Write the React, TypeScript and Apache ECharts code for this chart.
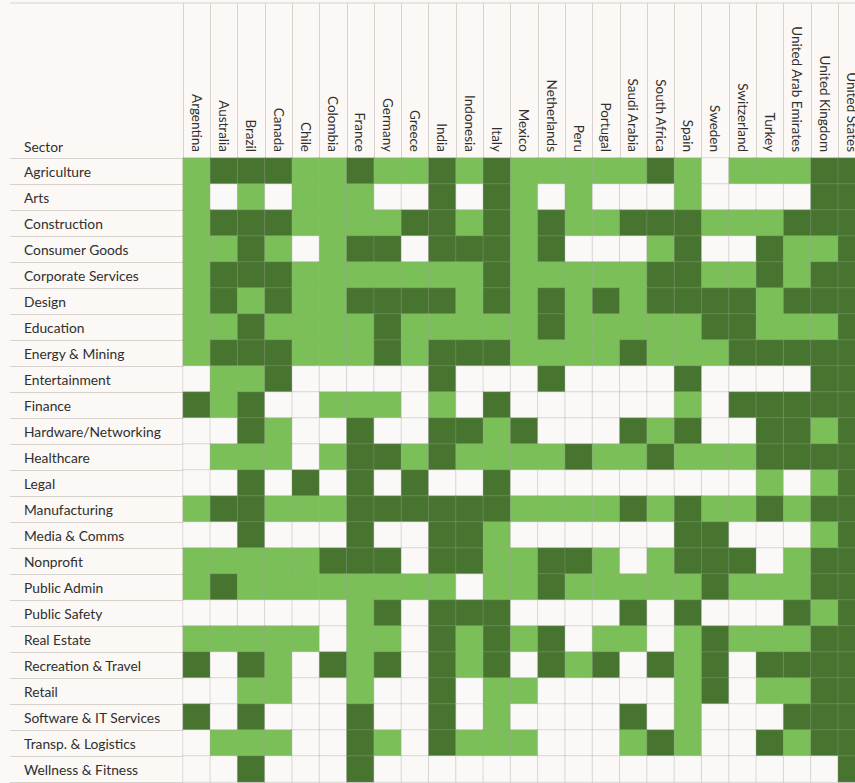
import React, { useEffect, useRef } from "react";
import * as echarts from "echarts";

const countries = [
  "Argentina", "Australia", "Brazil", "Canada", "Chile", "Colombia", "France", "Germany", "Greece",
  "India", "Indonesia", "Italy", "Mexico", "Netherlands", "Peru", "Portugal", "Saudi Arabia",
  "South Africa", "Spain", "Sweden", "Switzerland", "Turkey", "United Arab Emirates",
  "United Kingdom", "United States",
];

const sectors = [
  "Agriculture", "Arts", "Construction", "Consumer Goods", "Corporate Services", "Design",
  "Education", "Energy & Mining", "Entertainment", "Finance", "Hardware/Networking", "Healthcare",
  "Legal", "Manufacturing", "Media & Comms", "Nonprofit", "Public Admin", "Public Safety",
  "Real Estate", "Recreation & Travel", "Retail", "Software & IT Services", "Transp. & Logistics",
  "Wellness & Fitness",
];

// 0 = none, 1 = light, 2 = dark
const agriculture = [1,2,2,2,1,1,2,1,1,2,1,2,1,1,1,1,1,2,1,0,1,1,1,2,2];
const arts = [1,0,1,0,1,1,1,0,0,2,0,2,1,0,1,0,0,0,1,0,0,0,0,2,2];
const construction = [1,2,2,2,1,1,1,1,2,2,1,2,1,2,1,1,2,2,2,1,1,1,2,2,2];
const consumerGoods = [1,1,2,1,0,1,2,2,0,2,2,2,1,2,0,0,0,1,2,0,0,2,1,1,2];
const corporateServices = [1,2,2,2,1,1,1,1,1,1,1,2,1,1,1,1,1,2,2,1,1,2,1,2,2];
const design = [1,2,1,2,1,1,2,2,2,2,1,2,1,2,1,2,1,2,2,2,2,1,2,2,2];
const education = [1,1,2,1,1,1,1,2,1,1,1,1,1,2,1,1,1,1,1,2,2,1,1,1,2];
const energyMining = [1,2,2,2,1,1,1,2,1,2,2,2,1,1,1,1,2,1,1,1,2,2,2,2,2];
const entertainment = [0,1,1,2,0,0,0,0,0,2,0,0,0,2,0,0,0,0,2,0,0,0,0,2,2];
const finance = [2,1,2,0,0,1,1,1,0,1,0,2,0,0,0,0,0,0,1,0,2,2,2,2,2];
const hardware = [0,0,2,1,0,0,2,0,0,2,2,1,2,0,0,0,2,1,2,0,0,2,2,1,2];
const healthcare = [0,1,1,1,0,1,2,2,1,2,1,1,1,1,2,1,1,2,1,1,1,2,2,2,2];
const legal = [0,0,2,0,2,0,2,0,2,0,0,2,0,0,0,0,0,0,0,0,0,1,0,1,2];
const manufacturing = [1,2,2,1,1,1,2,2,2,2,2,2,1,1,1,1,2,1,2,1,1,2,1,2,2];
const mediaComms = [0,0,2,0,0,0,2,0,0,2,2,1,0,0,0,0,0,0,2,2,0,0,0,1,2];
const nonprofit = [1,1,1,1,1,2,2,2,0,2,2,1,1,2,2,1,0,1,2,2,2,0,1,2,2];
const publicAdmin = [1,2,1,1,1,1,1,1,1,1,0,1,1,2,1,1,1,1,1,2,1,1,1,2,2];
const publicSafety = [0,0,0,0,0,0,1,2,0,2,2,2,0,0,0,0,2,0,2,0,0,0,2,1,2];
const realEstate = [1,1,1,1,1,0,1,1,0,2,1,2,1,2,0,1,1,0,1,2,1,1,1,2,2];
const recreation = [2,0,2,1,0,2,1,2,0,2,1,2,0,2,1,2,0,2,1,2,0,2,2,2,2];
const retail = [0,0,1,1,0,0,1,0,0,2,0,1,1,0,0,0,0,0,1,2,0,1,1,2,2];
const software = [2,0,2,0,0,0,2,0,0,2,0,1,0,0,0,0,2,0,1,0,0,0,2,2,2];
const transport = [0,1,1,1,0,0,2,1,0,2,1,1,1,0,0,0,1,2,1,0,0,2,1,2,2];
const wellness = [0,0,2,0,0,0,2,0,0,0,0,0,0,0,0,0,0,0,0,0,0,0,0,0,2];

const rows = [
  agriculture, arts, construction, consumerGoods, corporateServices, design, education,
  energyMining, entertainment, finance, hardware, healthcare, legal, manufacturing, mediaComms,
  nonprofit, publicAdmin, publicSafety, realEstate, recreation, retail, software, transport, wellness,
];

const BG = "#FBF8F5";
const LINE = "#D6D3CF";
const FONT = "Lato, 'Noto Sans', sans-serif";
const TEXT = "#2f2f2f";

export default function App() {
  const ref = useRef<HTMLDivElement>(null);

  useEffect(() => {
    document.body.style.margin = "0";
    document.body.style.background = BG;
    if (!ref.current) return;
    const chart = echarts.init(ref.current, undefined, { renderer: "svg" });

    const data: number[][] = [];
    rows.forEach((r, yi) => r.forEach((v, xi) => data.push([xi, yi, v])));

    const colW = 27.3;
    const rowH = 26;

    chart.setOption({
      animation: false,
      backgroundColor: BG,
      grid: {
        left: 183,
        top: 158,
        width: colW * countries.length,
        height: rowH * sectors.length,
      },
      xAxis: {
        type: "category",
        position: "top",
        data: countries,
        boundaryGap: true,
        axisLine: { show: true, lineStyle: { color: LINE, width: 1 } },
        axisTick: { show: true, length: 155, lineStyle: { color: LINE, width: 1 } },
        axisLabel: {
          rotate: 90,
          interval: 0,
          margin: 6,
          color: TEXT,
          fontSize: 13.5,
          fontFamily: FONT,
        },
        splitLine: { show: false },
      },
      yAxis: {
        type: "category",
        inverse: true,
        data: sectors,
        boundaryGap: true,
        axisLine: { show: false },
        axisTick: { show: true, length: 173, lineStyle: { color: LINE, width: 1 } },
        axisLabel: {
          interval: 0,
          align: "left",
          margin: 159,
          color: TEXT,
          fontSize: 13.8,
          fontFamily: FONT,
        },
        splitLine: { show: false },
      },
      visualMap: {
        show: false,
        type: "piecewise",
        dimension: 2,
        pieces: [
          { value: 0, color: "#FBF9F7" },
          { value: 1, color: "#7BBF58" },
          { value: 2, color: "#47742F" },
        ],
      },
      graphic: [
        {
          type: "line",
          shape: { x1: 10, y1: 3, x2: 880, y2: 3 },
          style: { stroke: LINE, lineWidth: 1 },
        },
        {
          type: "text",
          left: 24,
          top: 139,
          style: { text: "Sector", fill: TEXT, font: `13.8px ${FONT}` },
        },
      ],
      series: [
        {
          type: "heatmap",
          data,
          itemStyle: { borderColor: "rgba(160,160,160,0.35)", borderWidth: 1 },
          emphasis: { disabled: true },
        },
      ],
    });

    return () => chart.dispose();
  }, []);

  return (
    <div style={{ width: 855, height: 783, overflow: "hidden", background: BG }}>
      <div ref={ref} style={{ width: 880, height: 783, background: BG }} />
    </div>
  );
}
